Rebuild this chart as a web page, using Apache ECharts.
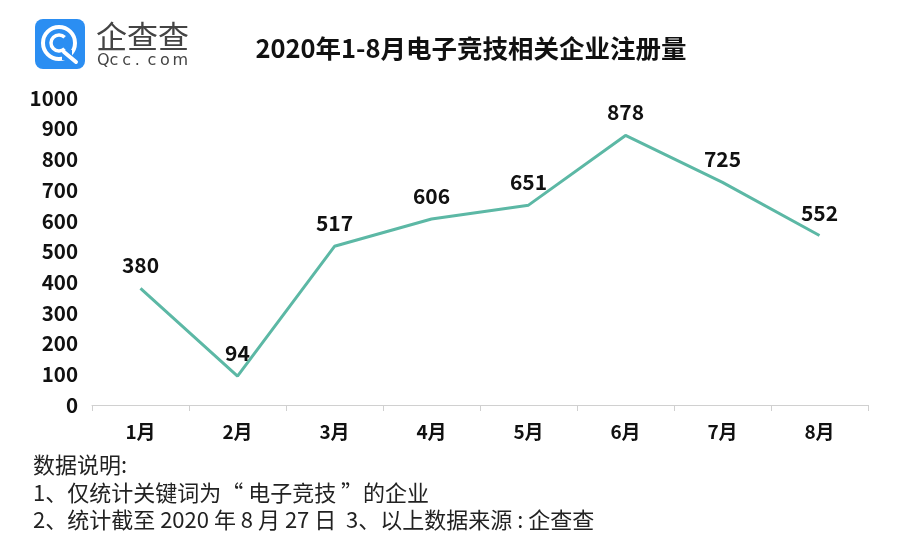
<!DOCTYPE html>
<html><head><meta charset="utf-8">
<script src="https://cdn.jsdelivr.net/npm/echarts@6/dist/echarts.min.js"></script>
<style>html,body{margin:0;padding:0;background:#fff;}#c{width:899px;height:542px;}</style>
</head><body><div id="c"></div>
<script>
const categories = ['1月','2月','3月','4月','5月','6月','7月','8月'];
const values = [380, 94, 517, 606, 651, 878, 725, 552];
const titleText = '2020年1-8月电子竞技相关企业注册量';
const notes = ['数据说明:', '1、仅统计关键词为“ 电子竞技 ”的企业', '2、统计截至 2020 年 8 月 27 日  3、以上数据来源 : 企查查'];
const FONT = '"Noto Sans CJK SC", "Noto Sans", sans-serif';

const logoChars = 'Qcc.com'.split('');
const logoText = logoChars.map((ch, i) => ({
  type: 'text', style: {x: 97 + i * 12.6, y: 53, text: ch, font: '16px "DejaVu Sans"', fill: '#444'}
}));

const chart = echarts.init(document.getElementById('c'));
chart.setOption({
  backgroundColor: '#fff',
  animation: false,
  title: {
    text: titleText, left: 466, top: 31, textAlign: 'center',
    textStyle: {fontFamily: FONT, fontSize: 25.5, fontWeight: 'bold', color: '#111'}
  },
  grid: {left: 92, right: 31, top: 98, bottom: 137},
  xAxis: {
    type: 'category', data: categories, boundaryGap: true,
    axisLine: {show: true, lineStyle: {color: '#d0d0d0', width: 1}},
    axisTick: {show: true, length: 6, lineStyle: {color: '#d0d0d0'}},
    axisLabel: {fontFamily: FONT, fontSize: 19, fontWeight: 'bold', color: '#111', margin: 17}
  },
  yAxis: {
    type: 'value', min: 0, max: 1000, interval: 100,
    axisLine: {show: false}, axisTick: {show: false}, splitLine: {show: false},
    axisLabel: {fontFamily: FONT, fontSize: 20.5, fontWeight: 'bold', color: '#111', margin: 14,
      formatter: v => String(v)}
  },
  series: [{
    type: 'line', data: values, symbol: 'circle', symbolSize: 1, showSymbol: true,
    itemStyle: {color: '#5cb8a5', opacity: 0},
    lineStyle: {color: '#5cb8a5', width: 3},
    label: {show: true, position: 'top', distance: 12, fontFamily: FONT, fontSize: 21, fontWeight: 'bold', color: '#111', opacity: 1}
  }],
  graphic: [
    {type: 'rect', shape: {x: 35, y: 19, width: 50, height: 50, r: 8}, style: {fill: '#2b8ef2'}},
    {type: 'circle', shape: {cx: 59, cy: 43, r: 16}, style: {fill: 'none', stroke: '#fff', lineWidth: 4}},
    {type: 'rect', shape: {x: 62, y: 50, width: 10, height: 10}, style: {fill: '#2b8ef2'}},
    {type: 'line', shape: {x1: 64, y1: 52, x2: 76, y2: 62}, style: {stroke: '#fff', lineWidth: 4, lineCap: 'round'}},
    {type: 'arc', shape: {cx: 59, cy: 43, r: 8, startAngle: 0.8, endAngle: 5.5}, style: {fill: 'none', stroke: '#fff', lineWidth: 3.5}},
    {type: 'text', style: {x: 96, y: 21, text: '企查查', font: '31px "Noto Sans CJK SC"', fill: '#444'}},
    ...logoText,
    {type: 'text', style: {x: 33, y: 454, text: notes[0], font: '22px "Noto Sans CJK SC"', fill: '#222'}},
    {type: 'text', style: {x: 33, y: 482, text: notes[1], font: '22px "Noto Sans CJK SC"', fill: '#222'}},
    {type: 'text', style: {x: 33, y: 509, text: notes[2], font: '22px "Noto Sans CJK SC"', fill: '#222'}}
  ]
});
</script></body></html>
